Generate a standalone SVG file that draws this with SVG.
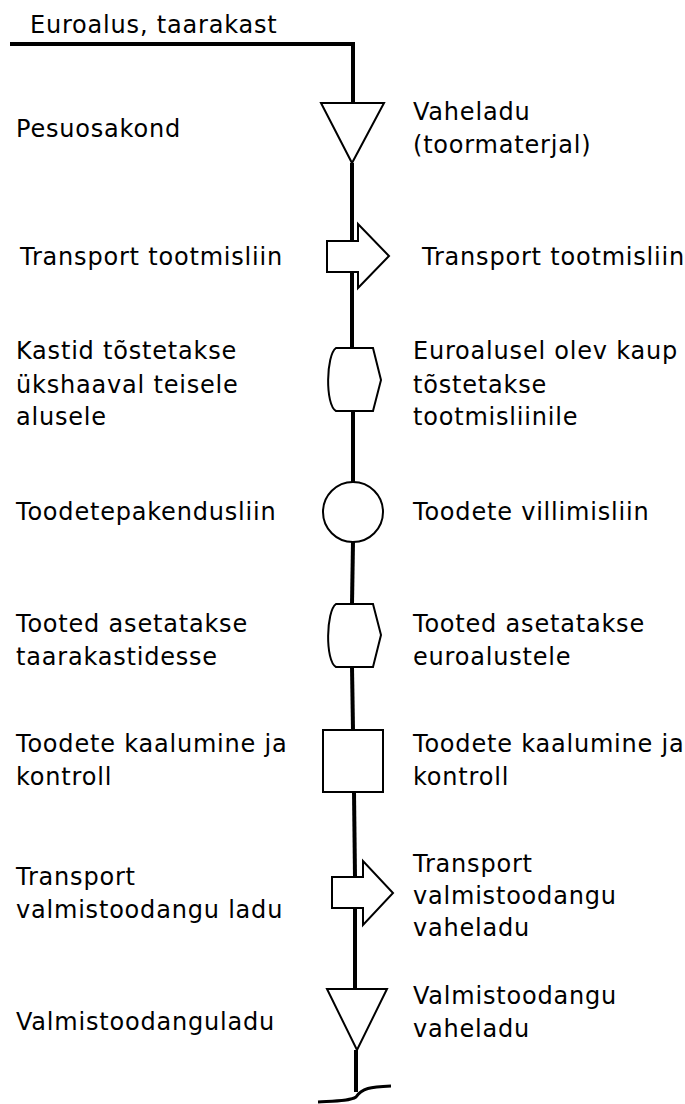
<svg xmlns="http://www.w3.org/2000/svg" width="685" height="1104" viewBox="0 0 685 1104">
  <style>
    .t { font-family: "DejaVu Sans", Verdana, sans-serif; font-size: 24px; letter-spacing: 0.8px; fill: #000; }
    .s { fill: #fff; stroke: #000; stroke-width: 2; }
    .c { fill: none; stroke: #000; stroke-width: 4; }
  </style>
  <rect width="685" height="1104" fill="#fff"/>

  <!-- flow line -->
  <g id="connectors">
    <path class="c" d="M10 44 H353 V103"/>
    <path class="c" d="M352 163 L352 241"/>
    <path class="c" d="M352 272 L352 348"/>
    <path class="c" d="M353 411 L353 482"/>
    <path class="c" d="M353 542 L352 604"/>
    <path class="c" d="M352 667 L353 730"/>
    <path class="c" d="M354 792 L355 877"/>
    <path class="c" d="M355 908 L355 989"/>
    <path class="c" d="M356 1050 L356 1092"/>
    <path fill="none" stroke="#000" stroke-width="3" d="M318 1102 C335 1101 350 1101 356 1097 C362 1088 370 1087 391 1086"/>
  </g>

  <!-- storage: raw material buffer -->
  <g id="n1">
    <polygon class="s" points="321,103 384,103 352,163"/>
    <text class="t" x="16" y="137">Pesuosakond</text>
    <text class="t" x="413" y="120">Vaheladu</text>
    <text class="t" x="413" y="153">(toormaterjal)</text>
  </g>
  <text class="t" x="30" y="33">Euroalus, taarakast</text>

  <!-- transport to production line -->
  <g id="n2">
    <polygon class="s" points="327,241 358,241 358,224 389,256 358,288 358,272 327,272"/>
    <text class="t" x="20" y="265">Transport tootmisliin</text>
    <text class="t" x="422" y="265">Transport tootmisliin</text>
  </g>

  <!-- delay: lifting onto the line -->
  <g id="n3">
    <path class="s" d="M336 348 H373 L381 380 L373 411 H336 C325 405 326 355 336 348 Z"/>
    <text class="t" x="16" y="359">Kastid tõstetakse</text>
    <text class="t" x="16" y="393">ükshaaval teisele</text>
    <text class="t" x="16" y="425">alusele</text>
    <text class="t" x="413" y="359">Euroalusel olev kaup</text>
    <text class="t" x="413" y="393">tõstetakse</text>
    <text class="t" x="413" y="425">tootmisliinile</text>
  </g>

  <!-- operation: bottling / packing -->
  <g id="n4">
    <circle class="s" cx="353" cy="512" r="30"/>
    <text class="t" x="16" y="520">Toodetepakendusliin</text>
    <text class="t" x="413" y="520">Toodete villimisliin</text>
  </g>

  <!-- delay: placing products -->
  <g id="n5">
    <path class="s" d="M336 604 H373 L381 635 L373 667 H336 C325 661 326 611 336 604 Z"/>
    <text class="t" x="16" y="632">Tooted asetatakse</text>
    <text class="t" x="16" y="665">taarakastidesse</text>
    <text class="t" x="413" y="632">Tooted asetatakse</text>
    <text class="t" x="413" y="665">euroalustele</text>
  </g>

  <!-- inspection: weighing and control -->
  <g id="n6">
    <rect class="s" x="323" y="730" width="60" height="62"/>
    <text class="t" x="16" y="752">Toodete kaalumine ja</text>
    <text class="t" x="16" y="785">kontroll</text>
    <text class="t" x="413" y="752">Toodete kaalumine ja</text>
    <text class="t" x="413" y="785">kontroll</text>
  </g>

  <!-- transport to finished goods -->
  <g id="n7">
    <polygon class="s" points="332,877 363,877 363,861 393,893 363,925 363,908 332,908"/>
    <text class="t" x="16" y="885">Transport</text>
    <text class="t" x="16" y="918">valmistoodangu ladu</text>
    <text class="t" x="413" y="872">Transport</text>
    <text class="t" x="413" y="904">valmistoodangu</text>
    <text class="t" x="413" y="936">vaheladu</text>
  </g>

  <!-- storage: finished goods -->
  <g id="n8">
    <polygon class="s" points="327,989 387,989 357,1050"/>
    <text class="t" x="16" y="1030">Valmistoodanguladu</text>
    <text class="t" x="413" y="1004">Valmistoodangu</text>
    <text class="t" x="413" y="1037">vaheladu</text>
  </g>
</svg>
